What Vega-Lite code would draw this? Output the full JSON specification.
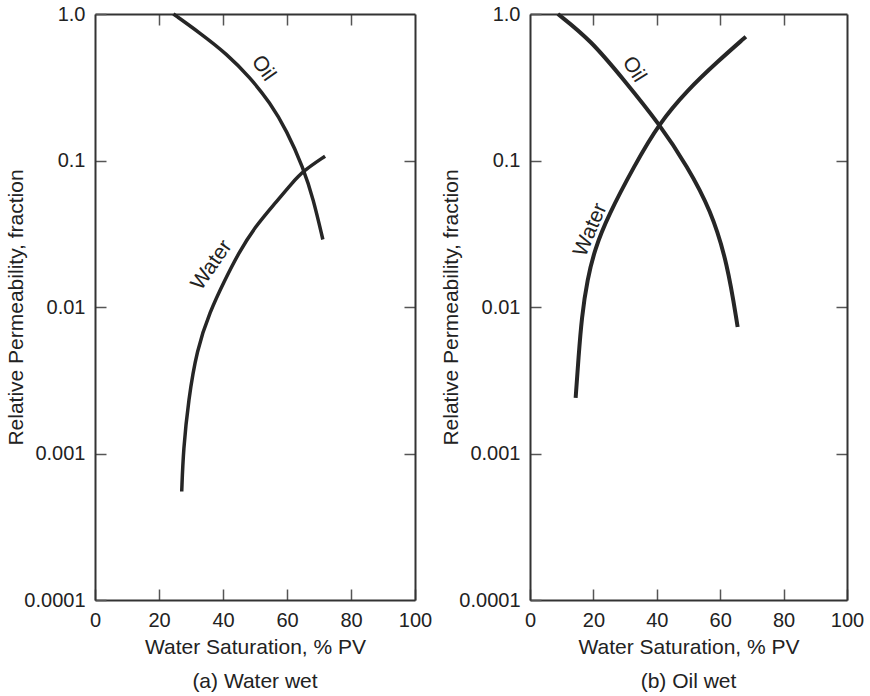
{
  "$schema": "https://vega.github.io/schema/vega-lite/v6.json",
  "padding": {"left": 5, "top": 4, "right": 5, "bottom": 5},
  "spacing": 8,
  "config": {
    "font": "Liberation Sans",
    "view": {"stroke": null},
    "axis": {
      "domainColor": "#333333",
      "domainWidth": 2,
      "tickColor": "#555555",
      "tickWidth": 1.5,
      "labelFontSize": 20,
      "labelColor": "#222222",
      "titleFontSize": 21,
      "titleFontWeight": "normal",
      "titleColor": "#222222",
      "grid": false,
      "labelFlush": false,
      "labelOverlap": false,
      "labelBound": false
    }
  },
  "datasets": {
    "curves": [
      {"panel": "a", "curve": "Oil", "sw": 24.5, "kr": 1.0},
      {"panel": "a", "curve": "Oil", "sw": 32.8, "kr": 0.742},
      {"panel": "a", "curve": "Oil", "sw": 41.2, "kr": 0.534},
      {"panel": "a", "curve": "Oil", "sw": 48.4, "kr": 0.370},
      {"panel": "a", "curve": "Oil", "sw": 54.7, "kr": 0.248},
      {"panel": "a", "curve": "Oil", "sw": 59.9, "kr": 0.160},
      {"panel": "a", "curve": "Oil", "sw": 65.1, "kr": 0.089},
      {"panel": "a", "curve": "Oil", "sw": 68.2, "kr": 0.0548},
      {"panel": "a", "curve": "Oil", "sw": 71.2, "kr": 0.0289},
      {"panel": "a", "curve": "Water", "sw": 27.1, "kr": 0.00055},
      {"panel": "a", "curve": "Water", "sw": 27.6, "kr": 0.00106},
      {"panel": "a", "curve": "Water", "sw": 29.2, "kr": 0.00232},
      {"panel": "a", "curve": "Water", "sw": 31.8, "kr": 0.0051},
      {"panel": "a", "curve": "Water", "sw": 35.9, "kr": 0.0093},
      {"panel": "a", "curve": "Water", "sw": 40.6, "kr": 0.0153},
      {"panel": "a", "curve": "Water", "sw": 44.8, "kr": 0.0232},
      {"panel": "a", "curve": "Water", "sw": 50.0, "kr": 0.0353},
      {"panel": "a", "curve": "Water", "sw": 56.25, "kr": 0.051},
      {"panel": "a", "curve": "Water", "sw": 61.5, "kr": 0.0699},
      {"panel": "a", "curve": "Water", "sw": 65.1, "kr": 0.085},
      {"panel": "a", "curve": "Water", "sw": 71.9, "kr": 0.107},
      {"panel": "b", "curve": "Oil", "sw": 8.8, "kr": 1.0},
      {"panel": "b", "curve": "Oil", "sw": 19.1, "kr": 0.665},
      {"panel": "b", "curve": "Oil", "sw": 29.6, "kr": 0.355},
      {"panel": "b", "curve": "Oil", "sw": 40.7, "kr": 0.179},
      {"panel": "b", "curve": "Oil", "sw": 49.7, "kr": 0.0907},
      {"panel": "b", "curve": "Oil", "sw": 57.0, "kr": 0.046},
      {"panel": "b", "curve": "Oil", "sw": 62.3, "kr": 0.0199},
      {"panel": "b", "curve": "Oil", "sw": 65.5, "kr": 0.0073},
      {"panel": "b", "curve": "Water", "sw": 14.4, "kr": 0.0024},
      {"panel": "b", "curve": "Water", "sw": 15.3, "kr": 0.0045},
      {"panel": "b", "curve": "Water", "sw": 16.3, "kr": 0.0085},
      {"panel": "b", "curve": "Water", "sw": 18.1, "kr": 0.0155},
      {"panel": "b", "curve": "Water", "sw": 20.5, "kr": 0.025},
      {"panel": "b", "curve": "Water", "sw": 24.4, "kr": 0.041},
      {"panel": "b", "curve": "Water", "sw": 33.0, "kr": 0.093},
      {"panel": "b", "curve": "Water", "sw": 40.7, "kr": 0.179},
      {"panel": "b", "curve": "Water", "sw": 49.7, "kr": 0.303},
      {"panel": "b", "curve": "Water", "sw": 59.1, "kr": 0.472},
      {"panel": "b", "curve": "Water", "sw": 68.1, "kr": 0.70}
    ],
    "labels": [
      {"panel": "a", "label": "Oil", "sw": 52.6, "kr": 0.426},
      {"panel": "a", "label": "Water", "sw": 36.5, "kr": 0.0193},
      {"panel": "b", "label": "Oil", "sw": 32.8, "kr": 0.419},
      {"panel": "b", "label": "Water", "sw": 19.1, "kr": 0.0336}
    ]
  },
  "hconcat": [
    {
      "width": 320,
      "height": 586,
      "title": {"text": "(a) Water wet", "orient": "bottom", "anchor": "middle", "frame": "group", "fontSize": 21, "fontWeight": "normal", "offset": 14, "color": "#222222"},
      "layer": [
        {
          "data": {"name": "curves"},
          "transform": [{"filter": "datum.panel == 'a'"}],
          "mark": {"type": "line", "interpolate": "basis", "strokeWidth": 3.5, "color": "#262626"},
          "encoding": {
            "x": {"field": "sw", "type": "quantitative", "scale": {"domain": [0, 100]},
              "axis": {"orient": "bottom", "values": [0, 20, 40, 60, 80, 100], "title": "Water Saturation, % PV", "tickSize": -11, "labelPadding": 21, "titlePadding": 6}},
            "y": {"field": "kr", "type": "quantitative", "scale": {"type": "log", "domain": [0.0001, 1]},
              "axis": {"orient": "left", "values": [1, 0.1, 0.01, 0.001, 0.0001], "labelExpr": "datum.value >= 1 ? '1.0' : format(datum.value, '~g')", "title": "Relative Permeability, fraction", "tickSize": -11, "labelPadding": 21, "titlePadding": -3}},
            "detail": {"field": "curve"}
          }
        },
        {
          "data": {"name": "labels"},
          "transform": [{"filter": "datum.panel == 'a' && datum.label == 'Oil'"}],
          "mark": {"type": "text", "angle": 55, "fontSize": 21, "color": "#222222"},
          "encoding": {
            "x": {"field": "sw", "type": "quantitative", "axis": {"orient": "top", "values": [20, 40, 60, 80], "labels": false, "title": null, "tickSize": -11}},
            "y": {"field": "kr", "type": "quantitative", "axis": {"orient": "right", "values": [0.1, 0.01, 0.001], "labels": false, "title": null, "tickSize": -11}},
            "text": {"field": "label"}
          }
        },
        {
          "data": {"name": "labels"},
          "transform": [{"filter": "datum.panel == 'a' && datum.label == 'Water'"}],
          "mark": {"type": "text", "angle": -55, "fontSize": 21, "color": "#222222"},
          "encoding": {
            "x": {"field": "sw", "type": "quantitative", "axis": null},
            "y": {"field": "kr", "type": "quantitative", "axis": null},
            "text": {"field": "label"}
          }
        }
      ]
    },
    {
      "width": 317,
      "height": 586,
      "title": {"text": "(b) Oil wet", "orient": "bottom", "anchor": "middle", "frame": "group", "fontSize": 21, "fontWeight": "normal", "offset": 14, "color": "#222222"},
      "layer": [
        {
          "data": {"name": "curves"},
          "transform": [{"filter": "datum.panel == 'b'"}],
          "mark": {"type": "line", "interpolate": "basis", "strokeWidth": 4, "color": "#262626"},
          "encoding": {
            "x": {"field": "sw", "type": "quantitative", "scale": {"domain": [0, 100]},
              "axis": {"orient": "bottom", "values": [0, 20, 40, 60, 80, 100], "title": "Water Saturation, % PV", "tickSize": -11, "labelPadding": 21, "titlePadding": 6}},
            "y": {"field": "kr", "type": "quantitative", "scale": {"type": "log", "domain": [0.0001, 1]},
              "axis": {"orient": "left", "values": [1, 0.1, 0.01, 0.001, 0.0001], "labelExpr": "datum.value >= 1 ? '1.0' : format(datum.value, '~g')", "title": "Relative Permeability, fraction", "tickSize": -11, "labelPadding": 21, "titlePadding": -3}},
            "detail": {"field": "curve"}
          }
        },
        {
          "data": {"name": "labels"},
          "transform": [{"filter": "datum.panel == 'b' && datum.label == 'Oil'"}],
          "mark": {"type": "text", "angle": 58, "fontSize": 21, "color": "#222222"},
          "encoding": {
            "x": {"field": "sw", "type": "quantitative", "axis": {"orient": "top", "values": [20, 40, 60, 80], "labels": false, "title": null, "tickSize": -11}},
            "y": {"field": "kr", "type": "quantitative", "axis": {"orient": "right", "values": [0.1, 0.01, 0.001], "labels": false, "title": null, "tickSize": -11}},
            "text": {"field": "label"}
          }
        },
        {
          "data": {"name": "labels"},
          "transform": [{"filter": "datum.panel == 'b' && datum.label == 'Water'"}],
          "mark": {"type": "text", "angle": -67, "fontSize": 21, "color": "#222222"},
          "encoding": {
            "x": {"field": "sw", "type": "quantitative", "axis": null},
            "y": {"field": "kr", "type": "quantitative", "axis": null},
            "text": {"field": "label"}
          }
        }
      ]
    }
  ]
}
